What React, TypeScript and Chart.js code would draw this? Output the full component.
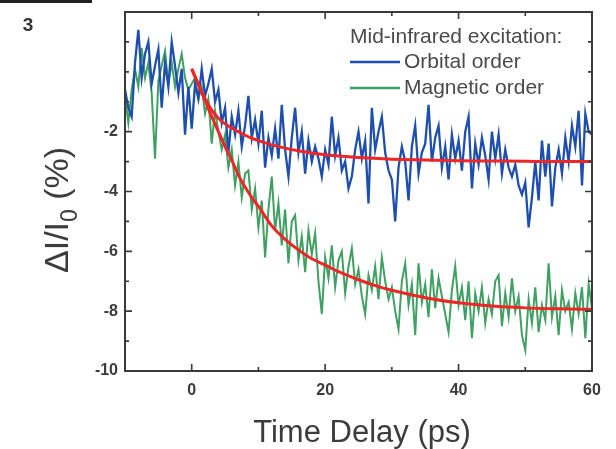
import { useEffect, useRef } from 'react';
import { Chart, registerables } from 'chart.js';

Chart.register(...registerables);

// ---- data ----
const T_START = -10;
const T_STEP = 0.5;

const ORBITAL = [
  -0.6, -1.2, -1.5, 0.3, 1.4, -0.2, 0.6, 1.0, -0.4, 0.2,
  0.75, -1.2, 0.3, -0.5, 1.0, 0.2, -0.7, 0.1, -2.1, -0.5,
  -1.9, -0.4, -0.9, 0.1, -0.8, -0.4, 0.1, -1.0, -0.6, -1.7,
  -1.2, -2.7, -1.5, -2.1, -1.3, -2.5, -1.8, -0.8, -2.2, -1.6,
  -2.4, -1.3, -3.2, -2.2, -2.8, -1.9, -2.9, -1.1, -2.6, -3.5,
  -2.2, -1.2, -2.7, -2.0, -3.4, -2.3, -3.0, -2.5, -2.9, -3.5,
  -2.6, -3.1, -1.5, -2.8, -2.2, -3.3, -3.0, -3.9, -3.5, -2.6,
  -2.0, -2.9, -2.3, -4.4, -1.2, -2.6, -2.0, -1.5, -2.7, -3.3,
  -3.6, -5.0, -3.2, -2.5, -3.0, -4.3, -2.5, -1.8, -3.4, -2.7,
  -2.4, -1.1, -3.0, -2.2, -1.8, -3.2, -2.5, -3.6, -2.1, -2.9,
  -2.3, -3.3, -2.0, -1.5, -3.9, -2.4, -3.1, -2.2, -2.8, -3.6,
  -2.0, -2.9, -2.1, -3.4, -2.6, -3.2, -3.5, -3.1, -3.8, -4.1,
  -3.7, -5.2, -4.2, -3.0, -4.3, -2.3, -3.5, -2.4, -4.5, -3.2,
  -2.6, -3.4, -2.2, -3.0, -1.8, -2.5, -1.3, -3.8, -1.4, -2.0,
  -2.1,
];

const MAGNETIC = [
  -0.8, -1.7, -0.6, 0.1, -0.5, 0.8, -0.2, 0.3, -0.7, -2.9,
  -0.3, 0.2, 0.7, -0.4, 0.3, -0.5, 0.1, 0.6, -0.2, -0.6,
  -0.4, -0.2, -0.9, -0.5, -1.4, -0.9, -2.4, -1.3, -2.0, -2.6,
  -2.1, -3.2, -2.6, -3.8, -3.0, -4.2, -3.4, -3.3, -4.6, -3.9,
  -5.2, -4.3, -6.2, -4.6, -3.5, -5.3, -4.4, -5.8, -4.6, -6.4,
  -5.0, -4.8, -6.3, -5.5, -6.7, -5.3, -6.1, -5.4, -7.0, -8.1,
  -6.2, -6.9, -5.8, -7.2, -6.3, -6.0, -7.4, -6.5, -5.9, -7.1,
  -6.6, -7.5, -8.1, -6.8, -7.3, -6.5, -7.6, -6.2, -7.0, -7.6,
  -7.2, -8.0, -8.6, -7.0, -6.4, -7.8, -7.1, -8.8, -6.4, -7.7,
  -7.1, -8.2, -6.6, -7.9, -6.9, -7.5, -8.1, -8.7, -7.3, -6.5,
  -7.8, -7.2, -8.3, -7.0, -8.9, -7.4, -8.0, -7.2, -8.4, -7.6,
  -8.1, -7.0, -6.8, -8.5, -7.4, -8.2, -6.9, -8.0, -7.5, -8.8,
  -9.3, -7.6, -8.4, -7.2, -8.7, -7.8, -8.3, -6.4, -8.2, -7.5,
  -8.8, -7.3, -8.0, -7.7, -8.6, -7.4, -8.1, -7.2, -8.9, -7.1,
  -7.9,
];

const FIT_T = [0, 1, 2, 3, 4, 5, 6, 7, 8, 9, 10, 12, 14, 16, 18, 20, 22, 25, 28, 30, 35, 40, 45, 50, 55, 60];
const FIT_ORBITAL = [0.1, -0.42, -0.9, -1.28, -1.55, -1.74, -1.88, -2.0, -2.12, -2.22, -2.3, -2.44, -2.55, -2.64, -2.71, -2.77, -2.81, -2.86, -2.9, -2.92, -2.95, -2.97, -2.98, -2.99, -3.0, -3.0];
const FIT_MAGNETIC = [0.1, -0.42, -0.95, -1.5, -2.0, -2.5, -2.95, -3.45, -3.85, -4.2, -4.5, -5.15, -5.6, -5.95, -6.25, -6.46, -6.68, -6.95, -7.18, -7.3, -7.55, -7.72, -7.83, -7.89, -7.92, -7.94];

const X_LABELS = [0, 20, 40, 60];
const X_MINOR = [10, 30, 50];
const Y_LABELS = [-2, -4, -6, -8, -10];
const Y_MINOR = [-9, -7, -5, -3, -1, 0, 1];

const LEGEND_TITLE = 'Mid-infrared excitation:';
const SERIES_NAMES = ['Orbital order', 'Magnetic order'];
const X_TITLE = 'Time Delay (ps)';
const PANEL_LABEL = '3';

// ---- styles ----
const BLUE = '#1f4fae';
const GREEN = '#40a062';
const RED = '#ee2626';
const AXIS = '#3a3a3a';
const TEXT = '#3c3c3c';
const FONT = '"Liberation Sans", Arial, sans-serif';

const toPoints = (vals: number[]) => vals.map((v, i) => ({ x: T_START + i * T_STEP, y: v }));
const toFit = (vals: number[]) => vals.map((v, i) => ({ x: FIT_T[i], y: v }));

const decor = {
  id: 'decor',
  afterDraw(chart: any) {
    const { ctx, chartArea: a, scales } = chart;
    const xs = scales.x;
    const ys = scales.y;
    ctx.save();
    // frame
    ctx.strokeStyle = AXIS;
    ctx.lineWidth = 2;
    ctx.strokeRect(a.left, a.top, a.right - a.left, a.bottom - a.top);
    // ticks (inward)
    ctx.lineWidth = 1.6;
    const vtick = (v: number, len: number) => {
      const px = xs.getPixelForValue(v);
      ctx.beginPath();
      ctx.moveTo(px, a.bottom);
      ctx.lineTo(px, a.bottom - len);
      ctx.moveTo(px, a.top);
      ctx.lineTo(px, a.top + len);
      ctx.stroke();
    };
    const htick = (v: number, len: number) => {
      const py = ys.getPixelForValue(v);
      ctx.beginPath();
      ctx.moveTo(a.left, py);
      ctx.lineTo(a.left + len, py);
      ctx.moveTo(a.right, py);
      ctx.lineTo(a.right - len, py);
      ctx.stroke();
    };
    X_LABELS.forEach((v) => vtick(v, 7));
    X_MINOR.forEach((v) => vtick(v, 4));
    Y_LABELS.forEach((v) => htick(v, 7));
    Y_MINOR.forEach((v) => htick(v, 4));

    // legend
    ctx.fillStyle = '#4a4a4a';
    ctx.font = `21px ${FONT}`;
    ctx.textBaseline = 'middle';
    ctx.textAlign = 'left';
    ctx.fillText(LEGEND_TITLE, 350, 37);
    const rows = [
      { name: SERIES_NAMES[0], color: BLUE, y: 62 },
      { name: SERIES_NAMES[1], color: GREEN, y: 88 },
    ];
    rows.forEach((r) => {
      ctx.strokeStyle = r.color;
      ctx.lineWidth = 2.5;
      ctx.beginPath();
      ctx.moveTo(350, r.y);
      ctx.lineTo(400, r.y);
      ctx.stroke();
      ctx.fillStyle = '#4a4a4a';
      ctx.fillText(r.name, 404, r.y);
    });

    // x title
    ctx.fillStyle = TEXT;
    ctx.font = `31px ${FONT}`;
    ctx.textAlign = 'center';
    ctx.fillText(X_TITLE, 362, 433);

    // y title (rotated, with subscript)
    ctx.save();
    ctx.translate(68, 273);
    ctx.rotate(-Math.PI / 2);
    ctx.textAlign = 'left';
    ctx.textBaseline = 'alphabetic';
    ctx.font = `34px ${FONT}`;
    let cx = 0;
    const part1 = '\u0394I/I';
    ctx.fillText(part1, cx, 0);
    cx += ctx.measureText(part1).width;
    ctx.font = `23px ${FONT}`;
    ctx.fillText('0', cx, 9);
    cx += ctx.measureText('0').width;
    ctx.font = `34px ${FONT}`;
    ctx.fillText(' (%)', cx, 0);
    ctx.restore();

    // panel label and corner box fragment
    ctx.fillStyle = '#333';
    ctx.font = `bold 19px ${FONT}`;
    ctx.textAlign = 'center';
    ctx.textBaseline = 'middle';
    ctx.fillText(PANEL_LABEL, 28, 26);
    ctx.fillStyle = '#222';
    ctx.fillRect(0, 0, 92, 3);

    ctx.restore();
  },
};

export default function App() {
  const ref = useRef<HTMLCanvasElement | null>(null);

  useEffect(() => {
    if (!ref.current) return;
    const chart = new Chart(ref.current, {
      type: 'line',
      data: {
        datasets: [
          {
            label: 'fit orbital',
            data: toFit(FIT_ORBITAL),
            borderColor: RED,
            borderWidth: 3,
            pointRadius: 0,
            cubicInterpolationMode: 'monotone',
          },
          {
            label: 'fit magnetic',
            data: toFit(FIT_MAGNETIC),
            borderColor: RED,
            borderWidth: 3,
            pointRadius: 0,
            cubicInterpolationMode: 'monotone',
          },
          {
            label: SERIES_NAMES[0],
            data: toPoints(ORBITAL),
            borderColor: BLUE,
            borderWidth: 2.3,
            pointRadius: 0,
            tension: 0,
          },
          {
            label: SERIES_NAMES[1],
            data: toPoints(MAGNETIC),
            borderColor: GREEN,
            borderWidth: 2,
            pointRadius: 0,
            tension: 0,
          },
        ],
      },
      options: {
        animation: false,
        responsive: false,
        devicePixelRatio: 1,
        layout: { padding: { top: 12, right: 24, left: 0, bottom: 0 } },
        plugins: { legend: { display: false }, tooltip: { enabled: false } },
        scales: {
          x: {
            type: 'linear',
            min: -10,
            max: 60,
            grid: { display: false, drawTicks: false },
            border: { display: false },
            ticks: {
              stepSize: 10,
              padding: 10,
              color: TEXT,
              font: { family: FONT, size: 16, weight: 'bold' },
              maxRotation: 0,
              autoSkip: false,
              callback: (v: any) => (X_LABELS.includes(Number(v)) ? String(v) : ''),
            },
            afterFit: (s: any) => {
              s.height = 78;
              s.paddingLeft = 0;
              s.paddingRight = 0;
            },
          },
          y: {
            type: 'linear',
            min: -10,
            max: 2,
            grid: { display: false, drawTicks: false },
            border: { display: false },
            ticks: {
              stepSize: 2,
              padding: 7,
              color: TEXT,
              font: { family: FONT, size: 16, weight: 'bold' },
              autoSkip: false,
              callback: (v: any) => (Y_LABELS.includes(Number(v)) ? String(v) : ''),
            },
            afterFit: (s: any) => {
              s.width = 125;
              s.paddingTop = 0;
              s.paddingBottom = 0;
            },
          },
        },
      },
      plugins: [decor],
    });
    return () => chart.destroy();
  }, []);

  return (
    <div style={{ position: 'absolute', left: 0, top: 0, width: 616, height: 449, background: '#fff' }}>
      <canvas ref={ref} width={616} height={449} />
    </div>
  );
}
